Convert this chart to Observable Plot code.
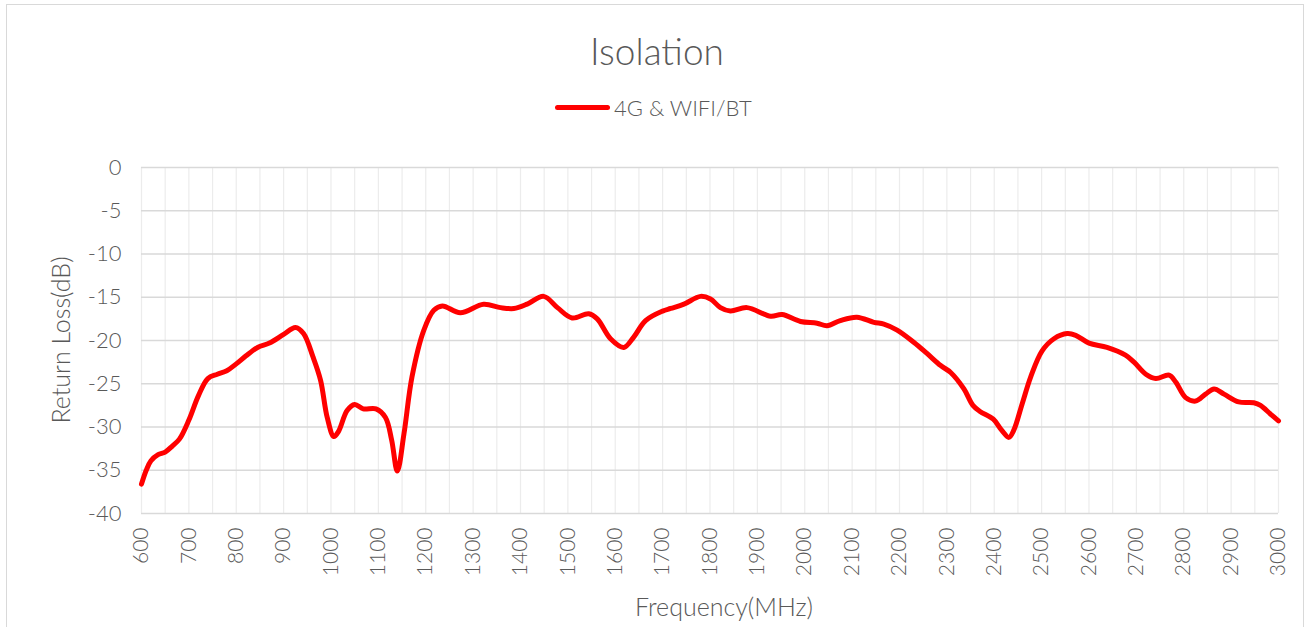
<!DOCTYPE html>
<html>
<head>
<meta charset="utf-8">
<script src="https://cdn.jsdelivr.net/npm/d3@7"></script>
<script src="https://cdn.jsdelivr.net/npm/@observablehq/plot@0.6"></script>
<style>
  html, body { margin: 0; padding: 0; background: #fff; }
  #wrap { position: relative; width: 1309px; height: 627px; overflow: hidden; font-family: "Lato", "Noto Sans", sans-serif; color: #595959; }
  #frame { position: absolute; left: 6px; top: 4px; width: 1298px; height: 700px; border: 1.5px solid #d9d9d9; box-sizing: border-box; }
  #chart { position: absolute; left: 0; top: 0; }
  .t { position: absolute; white-space: nowrap; font-weight: 300; }
  #title { left: 657px; top: 50px; font-size: 37px; transform: translate(-50%, -50%); }
  #legend { left: 555px; top: 94px; font-size: 22px; display: flex; align-items: center; }
  #legend .sw { width: 55px; height: 5px; background: #ff0000; border-radius: 3px; margin-right: 4px; }
  #xlabel { left: 724px; top: 606px; font-size: 25px; transform: translate(-50%, -50%); }
  #ylabel { left: 60px; top: 340px; font-size: 25px; transform: translate(-50%, -50%) rotate(-90deg); }
</style>
</head>
<body>
<div id="wrap">
  <div id="frame"></div>
  <div id="chart"></div>
  <div class="t" id="title">Isolation</div>
  <div class="t" id="legend"><span class="sw"></span><span id="legtext">4G &amp; WIFI/BT</span></div>
  <div class="t" id="xlabel">Frequency(MHz)</div>
  <div class="t" id="ylabel">Return Loss(dB)</div>
</div>
<script>
const seriesName = "4G & WIFI/BT";
const freq = [600,610,620,635,650,665,680,700,720,740,760,780,800,820,845,870,900,925,942,962,978,992,1006,1016,1034,1050,1068,1095,1115,1128,1140,1154,1171,1196,1217,1235,1273,1322,1358,1386,1414,1449,1478,1509,1544,1562,1590,1618,1639,1664,1700,1717,1745,1780,1801,1822,1843,1878,1928,1952,1991,2026,2047,2075,2110,2146,2167,2195,2230,2258,2287,2308,2336,2355,2370,2398,2416,2431,2441,2459,2477,2501,2526,2554,2572,2600,2638,2677,2695,2720,2741,2769,2783,2804,2825,2846,2864,2885,2916,2948,2962,2983,3000];
const isolation = [-36.6,-35.0,-33.9,-33.2,-32.9,-32.2,-31.4,-29.2,-26.4,-24.4,-23.9,-23.5,-22.7,-21.8,-20.8,-20.3,-19.3,-18.5,-19.2,-21.9,-24.6,-28.9,-31.1,-30.5,-28.1,-27.4,-27.9,-27.9,-28.9,-31.5,-35.1,-30.8,-24.2,-18.8,-16.5,-16.0,-16.8,-15.8,-16.2,-16.3,-15.8,-14.9,-16.2,-17.4,-16.9,-17.5,-19.8,-20.8,-19.6,-17.7,-16.6,-16.3,-15.8,-14.9,-15.2,-16.2,-16.6,-16.2,-17.2,-17.0,-17.8,-18.0,-18.3,-17.7,-17.3,-17.9,-18.1,-18.8,-20.2,-21.5,-22.9,-23.7,-25.6,-27.5,-28.2,-29.1,-30.4,-31.2,-30.4,-27.3,-24.2,-21.2,-19.8,-19.2,-19.4,-20.3,-20.8,-21.7,-22.5,-23.9,-24.4,-24.0,-24.8,-26.6,-27.0,-26.2,-25.6,-26.2,-27.1,-27.2,-27.5,-28.5,-29.3];
const xTicks = d3.range(600, 3001, 100);
const xGrid = d3.range(600, 3001, 50);
const yTicks = d3.range(-40, 1, 5);

const data = freq.map((f, i) => ({f, v: isolation[i]}));

const chart = Plot.plot({
  width: 1309,
  height: 627,
  marginLeft: 141,
  marginRight: 31,
  marginTop: 167,
  marginBottom: 114,
  style: {fontFamily: "Lato, 'Noto Sans', sans-serif", color: "#595959", background: "transparent"},
  x: {domain: [600, 3000]},
  y: {domain: [-40, 0]},
  marks: [
    Plot.gridX(xGrid, {stroke: "#ececec", strokeOpacity: 1, strokeWidth: 1.2}),
    Plot.gridY(yTicks, {stroke: "#d9d9d9", strokeOpacity: 1, strokeWidth: 1.4}),
    Plot.axisX(xTicks, {tickRotate: -90, tickSize: 0, tickPadding: 14, fontSize: 21, fontWeight: 300, tickFormat: d => String(d), label: null, fill: "#595959"}),
    Plot.axisY(yTicks, {tickSize: 0, tickPadding: 20, fontSize: 22, fontWeight: 300, tickFormat: d => String(d), label: null, fill: "#595959"}),
    Plot.line(data, {x: "f", y: "v", stroke: "#ff0000", strokeWidth: 5, curve: "catmull-rom", strokeLinejoin: "round", strokeLinecap: "round"})
  ]
});
document.getElementById("chart").appendChild(chart);
</script>
</body>
</html>
